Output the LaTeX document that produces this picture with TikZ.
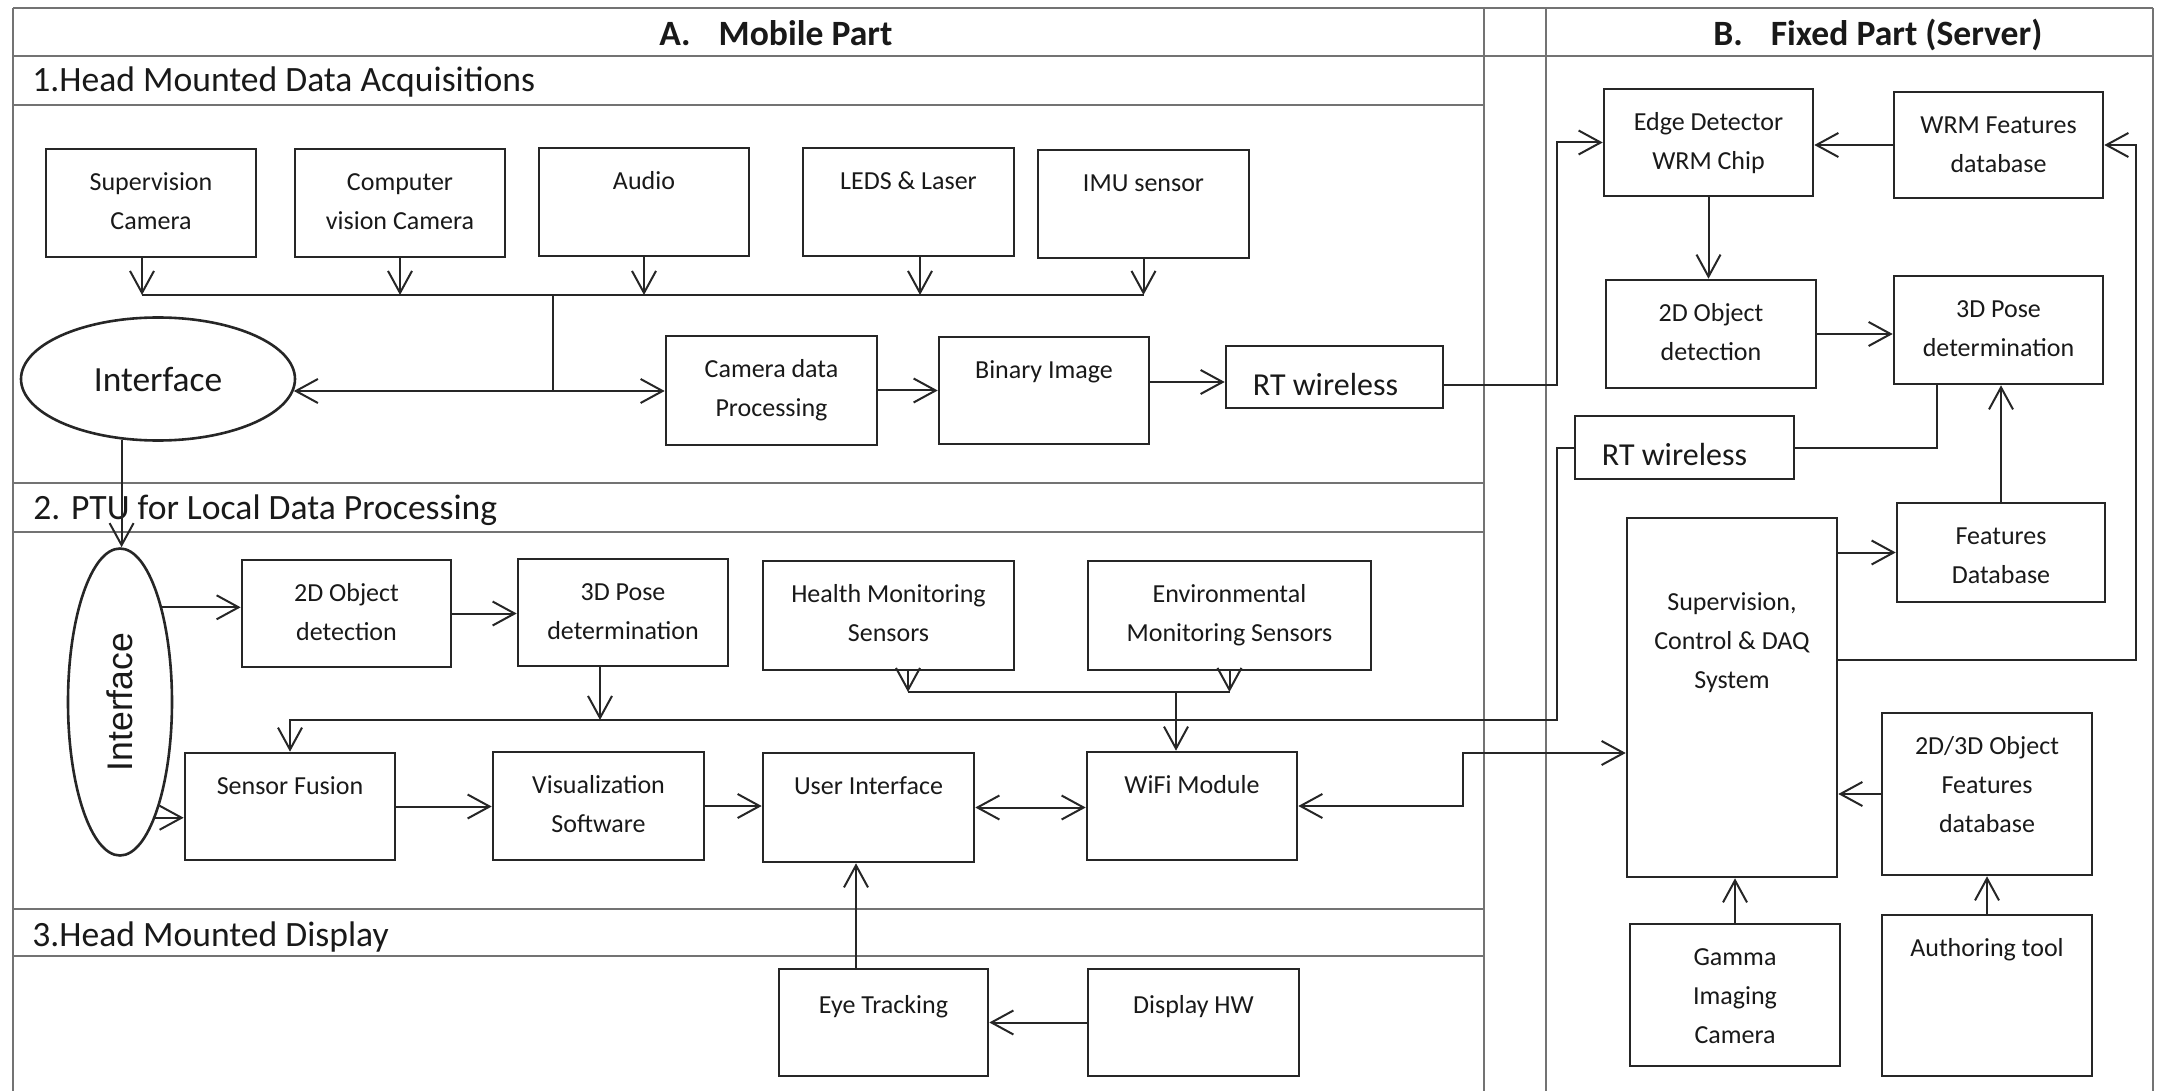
\documentclass[tikz,border=0pt]{standalone}
\usepackage{fontspec}
\setmainfont{Carlito}
\newfontfamily\arialfam{Liberation Sans}
\usepackage{graphicx}
\usetikzlibrary{arrows.meta,shapes.geometric,calc}

\newcommand{\myboxfont}{\fontsize{13}{19.5}\selectfont}
\newcommand{\mytitlefont}{\fontsize{17.8}{21}\selectfont}
\tikzset{
  box/.style={draw=black!85, line width=1.3pt, rectangle, inner sep=0pt},
  lbl/.style={anchor=north, align=center, inner sep=0pt, font=\myboxfont, text=black!90},
  ln/.style={draw=black!85, line width=1pt},
  arr/.style={ln, -{Straight Barb[length=11pt, width=12pt, line width=1pt]}},
  arrb/.style={ln, {Straight Barb[length=11pt, width=12pt, line width=1pt]}-{Straight Barb[length=11pt, width=12pt, line width=1pt]}},
  frm/.style={draw=black!55, line width=1.4pt},
  ttl/.style={anchor=base west, inner sep=0pt, font=\mytitlefont, text=black!90},
  ell/.style={draw=black!85, line width=1.3pt, ellipse, inner sep=0pt, text=black!90},
}
\newcommand{\mybox}[7][-11pt]{%
  \node[box, minimum width={(#5-#3)/2}, minimum height={(#6-#4)/2}] (#2) at ({(#3+#5)/2},{(#4+#6)/2}) {};
  \node[lbl] (#2-t) at ([yshift=#1]#2.north) {\rule{0pt}{10pt}#7};
}

\begin{document}
\begin{tikzpicture}[x=0.5pt, y=-0.5pt]
\useasboundingbox (0,0) rectangle (2159,1091);

% frame
\draw[frm] (13,8) -- (2153,8);
\draw[frm] (13,8) -- (13,1091);
\draw[frm] (2153,8) -- (2153,1091);
\draw[frm] (1484,8) -- (1484,1091);
\draw[frm] (1546,8) -- (1546,1091);
\draw[frm] (13,56) -- (2153,56);
\foreach \yy in {105,483,532,909,956} \draw[frm] (13,\yy) -- (1484,\yy);

% titles
\node[ttl, font=\mytitlefont\bfseries] (tA) at (659,46) {A.\hspace{14pt}Mobile Part};
\node[ttl, font=\mytitlefont\bfseries] (tB) at (1713,46) {B.\hspace{14pt}Fixed Part (Server)};
\node[ttl] (t1) at (32,92) {1.Head Mounted Data Acquisitions};
\node[ttl] (t2) at (33,519) {2. PTU for Local Data Processing};
\node[ttl] (t3) at (32,946) {3.Head Mounted Display};

% row 1 boxes
\mybox{sc}{46}{149}{256}{257}{Supervision\\Camera}
\mybox{cv}{295}{149}{505}{257}{Computer\\vision Camera}
\mybox{au}{539}{148}{749}{256}{Audio}
\mybox{ll}{803}{148}{1014}{256}{LEDS \& Laser}
\mybox{imu}{1038}{150}{1249}{258}{IMU sensor}
\mybox{cdp}{666}{336}{877}{445}{Camera data\\Processing}
\mybox{bi}{939}{337}{1149}{444}{Binary Image}
\node[box, minimum width={217/2}, minimum height={62/2}] (rt1) at (1334.5,377) {};
\node[inner sep=0pt, font=\fontsize{16}{19}\selectfont, text=black!90] (rt1-t) at ([xshift=-4.5pt,yshift=-4pt]rt1.center) {RT wireless};
\node[ell, minimum width=137pt, minimum height=61.5pt, font=\fontsize{17.7}{21}\selectfont] (ell1) at (158,379) {Interface};

% fixed part
\mybox{ed}{1604}{89}{1813}{196}{Edge Detector\\WRM Chip}
\mybox{wrm}{1894}{92}{2103}{198}{WRM Features\\database}
\mybox{o2f}{1606}{280}{1816}{388}{2D Object\\detection}
\mybox{p3f}{1894}{276}{2103}{384}{3D Pose\\determination}
\node[box, minimum width={219/2}, minimum height={63/2}] (rt2) at (1684.5,447.5) {};
\node[inner sep=0pt, font=\fontsize{16}{19}\selectfont, text=black!90] (rt2-t) at ([xshift=-5pt,yshift=-3.5pt]rt2.center) {RT wireless};
\mybox{fdb}{1897}{503}{2105}{602}{Features\\Database}
\mybox[-36.5pt]{scd}{1627}{518}{1837}{877}{Supervision,\\Control \& DAQ\\System}
\mybox{o23}{1882}{713}{2092}{875}{2D/3D Object\\Features\\database}
\mybox{gic}{1630}{924}{1840}{1066}{Gamma\\Imaging\\Camera}
\mybox{aut}{1882}{915}{2092}{1076}{Authoring tool}

% row 2
\node[ell, minimum width=52pt, minimum height=153.5pt, font=\arialfam\fontsize{17.8}{21}\selectfont] (ell2) at (120,702) {\rotatebox{90}{Interface}};
\mybox{o2m}{242}{560}{451}{667}{2D Object\\detection}
\mybox{p3m}{518}{559}{728}{666}{3D Pose\\determination}
\mybox{hms}{763}{561}{1014}{670}{Health Monitoring\\Sensors}
\mybox{ems}{1088}{561}{1371}{670}{Environmental\\Monitoring Sensors}
\mybox{sf}{185}{753}{395}{860}{Sensor Fusion}
\mybox{vs}{493}{752}{704}{860}{Visualization\\Software}
\mybox{ui}{763}{753}{974}{862}{User Interface}
\mybox{wifi}{1087}{752}{1297}{860}{WiFi Module}

% row 3
\mybox[-12.5pt]{et}{779}{969}{988}{1076}{Eye Tracking}
\mybox[-12.5pt]{dhw}{1088}{969}{1299}{1076}{Display HW}

% helper coordinates
\coordinate (bus) at (0,295);
\coordinate (jn) at (553,391);
\coordinate (v1) at (1557,0);
\coordinate (v2) at (1463,0);
\coordinate (v3) at (2136,0);
\coordinate (h660) at (0,660);
\coordinate (h692) at (0,692);
\coordinate (h720) at (0,720);
\coordinate (h753) at (0,753);
\coordinate (scb) at ([xshift=-4.5pt]sc.south);
\coordinate (llb) at ([xshift=5.75pt]ll.south);
\coordinate (rt1o) at ([yshift=-2.5pt]rt1.west);
\coordinate (rt1e) at ([yshift=-4pt]rt1.east);
\coordinate (p3fb) at ([xshift=-30.75pt]p3f.south);
\coordinate (p3mb) at ([xshift=-11.5pt]p3m.south);
\coordinate (hmsb) at ([xshift=9.75pt]hms.south);
\coordinate (wifit) at ([xshift=-8pt]wifi.north);
\coordinate (etn) at ([xshift=-13.75pt]et.north);

% connectors row 1
\foreach \p in {scb, cv.south, au.south, llb, imu.south} \draw[arr] (\p) -- (\p |- bus);
\draw[ln] (scb |- bus) -- (imu.south |- bus);
\draw[ln] (jn |- bus) -- (jn);
\draw[arr] (jn) -- (jn -| cdp.west);
\draw[arr] (jn) -- (jn -| ell1.-5);
\draw[arr] (cdp.east) -- (cdp.east -| bi.west);
\draw[arr] (bi.east |- rt1o) -- (rt1o);
\draw[arr] (rt1e) -- (rt1e -| v1) |- (ed.west);

% fixed part connectors
\draw[arr] (wrm.west) -- (wrm.west -| ed.east);
\draw[arr] (ed.south) -- (ed.south |- o2f.north);
\draw[arr] (o2f.east) -- (o2f.east -| p3f.west);
\draw[ln] (p3fb) |- (rt2.east);
\draw[arr] (rt2.west) -- (rt2.west -| v1) -- (v1 |- h720) -- (sf.north |- h720) -- (sf.north);
\draw[arr] (scd.east |- fdb.west) -- (fdb.west);
\draw[arr] (fdb.north) -- (fdb.north |- p3f.south);
\draw[arr] (scd.east |- h660) -- (v3 |- h660) -- (v3 |- wrm.east) -- (wrm.east);
\draw[arr] (o23.west) -- (o23.west -| scd.east);
\draw[arr] (gic.north) -- (gic.north |- scd.south);
\draw[arr] (aut.north) -- (aut.north |- o23.south);

% row 2 connectors
\draw[arr] (ell1.239) -- (ell1.239 |- ell2.north);
\draw[arr] (ell2.66) -- (ell2.66 -| o2m.west);
\draw[arr] (o2m.east) -- (o2m.east -| p3m.west);
\draw[arr] (p3mb) -- (p3mb |- h720);
\draw[arr] (hmsb) -- (hmsb |- h692);
\draw[arr] (ems.south) -- (ems.south |- h692);
\draw[ln] (hmsb |- h692) -- (ems.south |- h692);
\draw[arr] (wifit |- h692) -- (wifit);
\draw[arr] (ell2.-73) -- (ell2.-73 -| sf.west);
\draw[arr] (sf.east) -- (sf.east -| vs.west);
\draw[arr] (vs.east) -- (vs.east -| ui.west);
\draw[arrb] (ui.east) -- (ui.east -| wifi.west);
\draw[arrb] (wifi.east) -- (wifi.east -| v2) -- (v2 |- h753) -- (scd.west |- h753);

% row 3 connectors
\draw[arr] (dhw.west) -- (dhw.west -| et.east);
\draw[arr] (etn) -- (etn |- ui.south);
\end{tikzpicture}
\end{document}
